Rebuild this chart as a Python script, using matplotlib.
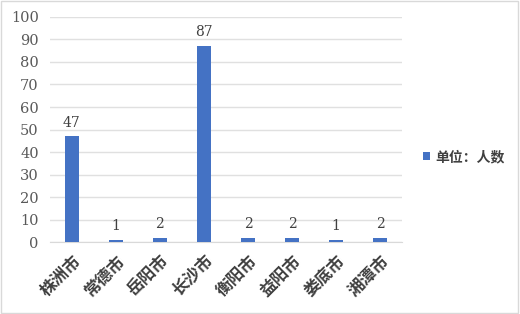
import matplotlib
matplotlib.use("Agg")
import matplotlib.pyplot as plt
from matplotlib.patches import Rectangle

plt.rcParams['font.family'] = ['DejaVu Serif', 'Noto Sans CJK SC']

cities = ["株洲市", "常德市", "岳阳市", "长沙市", "衡阳市", "益阳市", "娄底市", "湘潭市"]
counts = [47, 1, 2, 87, 2, 2, 1, 2]
yticks = [0, 10, 20, 30, 40, 50, 60, 70, 80, 90, 100]
series_name = "单位：人数"

fig = plt.figure(figsize=(5.2, 3.14), dpi=100)
ax = fig.add_axes([0.096, 0.229, 0.677, 0.717])

x = range(len(cities))
bars = ax.bar(x, counts, width=0.32, color="#4472C4", label=series_name, zorder=3)

for xi, v in zip(x, counts):
    ax.text(xi, v + 3, str(v), ha="center", va="bottom", fontsize=10, color="#404040")

ax.set_xlim(-0.5, len(cities) - 0.5)
ax.set_ylim(0, 100)
ax.set_yticks(yticks)
ax.tick_params(axis="y", length=0, labelsize=10.5, labelcolor="#595959", pad=8)
ax.tick_params(axis="x", length=0, pad=7)
ax.set_xticks(list(x))
ax.set_xticklabels(cities, rotation=45, ha="right", rotation_mode="anchor",
                   fontsize=12, family=['Noto Sans CJK SC'], fontweight="bold",
                   color="#404040")
ax.grid(axis="y", color="#e0e0e0", linewidth=1, zorder=0)
for s in ["top", "right", "left"]:
    ax.spines[s].set_visible(False)
ax.spines["bottom"].set_color("#d9d9d9")

leg = fig.legend(handles=[bars], labels=[series_name], loc="center left",
                 bbox_to_anchor=(0.79, 0.50), frameon=False,
                 prop={"family": ['Noto Sans CJK SC'], "weight": "bold", "size": 10},
                 handlelength=0.5, handleheight=0.5, handletextpad=0.4)
for t in leg.get_texts():
    t.set_color("#404040")

fig.patches.append(Rectangle((0.002, 0.003), 0.995, 0.994, transform=fig.transFigure,
                             fill=False, edgecolor="#d9d9d9", linewidth=1))

fig.savefig("out.png", dpi=100)
